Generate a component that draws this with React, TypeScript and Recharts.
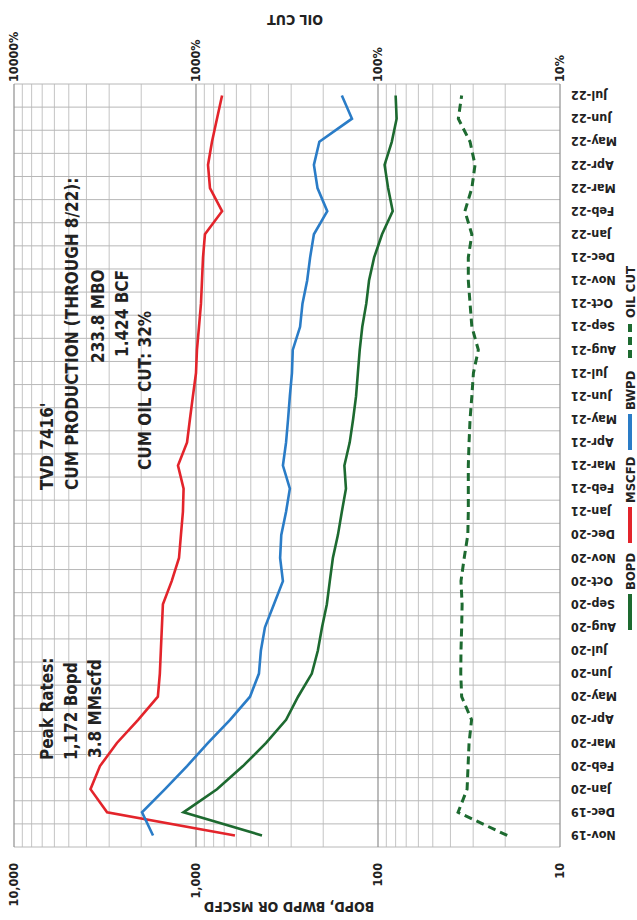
import { LineChart, Line, XAxis, YAxis, ReferenceLine } from 'recharts';

const FONT = '"Liberation Sans Narrow", "DejaVu Sans Condensed", "Liberation Sans", sans-serif';

const MONTHS = ['Nov-19', 'Dec-19', 'Jan-20', 'Feb-20', 'Mar-20', 'Apr-20', 'May-20', 'Jun-20', 'Jul-20', 'Aug-20', 'Sep-20',
  'Oct-20', 'Nov-20', 'Dec-20', 'Jan-21', 'Feb-21', 'Mar-21', 'Apr-21', 'May-21', 'Jun-21', 'Jul-21', 'Aug-21', 'Sep-21',
  'Oct-21', 'Nov-21', 'Dec-21', 'Jan-22', 'Feb-22', 'Mar-22', 'Apr-22', 'May-22', 'Jun-22', 'Jul-22'];

const BOPD = [434, 1172, 767, 552, 412, 320, 275, 231, 214, 203, 191, 184, 177, 166, 158, 150, 153, 143, 137, 132, 129,
  126, 122, 116, 112, 105, 95, 83, 88, 92, 84, 79, 80];
const MSCFD = [611, 3080, 3800, 3370, 2720, 2080, 1620, 1580, 1560, 1540, 1520, 1360, 1240, 1210, 1180, 1170, 1256, 1120,
  1080, 1040, 1000, 988, 963, 939, 927, 915, 893, 719, 838, 859, 817, 767, 719];
const BWPD = [1722, 1980, 1480, 1120, 859, 650, 505, 451, 440, 418, 373, 333, 345, 340, 320, 305, 333, 320, 312, 305, 297,
  294, 268, 260, 245, 236, 225, 190, 215, 225, 210, 139, 158];
const OIL_CUT = [19.5, 36.3, 32.4, 32.0, 31.6, 30.6, 34.7, 35.1, 35.0, 34.7, 34.5, 35.0, 33.6, 32.1, 31.9, 31.9, 31.9, 31.6,
  31.2, 30.5, 29.9, 28.1, 30.5, 31.2, 31.9, 31.9, 30.5, 33.3, 30.5, 29.3, 31.2, 36.2, 34.7];

const DECADES = [10, 100, 1000, 10000];
const DECADE_LABELS = ['10', '100', '1,000', '10,000'];
const CUT_LABELS = ['10%', '100%', '1000%', '10000%'];
const MINOR = [20, 30, 40, 50, 60, 70, 80, 90, 200, 300, 400, 500, 600, 700, 800, 900, 2000, 3000, 4000, 5000, 6000, 7000, 8000, 9000];

const data = MONTHS.map((m, i) => ({ idx: i, month: m, bopd: BOPD[i], mscfd: MSCFD[i], bwpd: BWPD[i], oilCut: OIL_CUT[i] }));
const bounds = [...MONTHS.map((_, i) => i - 0.5), MONTHS.length - 0.5];

const GREEN = '#1d6a30';
const RED = '#e3242b';
const BLUE = '#2a7cc7';

function DateTick(props: any) {
  const { x, y, payload } = props;
  return (
    <text x={x} y={y} transform={`rotate(-90, ${x}, ${y})`} textAnchor="end" dy="0.35em"
      fontSize={12.5} fontWeight={700} fill="#222" fontFamily={FONT}>
      {MONTHS[payload.value]}
    </text>
  );
}

const legend = [
  { name: 'BOPD', color: GREEN, x: 290, dash: false },
  { name: 'MSCFD', color: RED, x: 377, dash: false },
  { name: 'BWPD', color: BLUE, x: 470, dash: false },
  { name: 'OIL CUT', color: GREEN, x: 562, dash: true },
];

export default function App() {
  const txt = { fontFamily: FONT, fontWeight: 700, fill: '#222' };
  return (
    <div style={{ position: 'absolute', left: 0, top: 0, width: 637, height: 920, overflow: 'hidden', background: '#fff' }}>
      <div style={{ position: 'absolute', left: 0, top: 0, width: 920, height: 637, transformOrigin: '0 0',
        transform: 'translate(0px, 920px) rotate(-90deg)' }}>
        <LineChart width={920} height={637} data={data} margin={{ top: 14, right: 0, bottom: 17, left: 0 }}>
          <XAxis dataKey="idx" type="number" domain={[-0.5, 32.5]} ticks={MONTHS.map((_, i) => i)} interval={0}
            tick={<DateTick />} tickLine={false} axisLine={false} tickSize={6} tickMargin={5} height={60} />
          <YAxis yAxisId="v" scale="log" domain={[10, 10000]} ticks={DECADES} width={73} tickLine={false} axisLine={false}
            tickSize={6} tickMargin={10} tickFormatter={(v) => DECADE_LABELS[DECADES.indexOf(v)]}
            tick={{ fontSize: 12.5, fontWeight: 700, fill: '#222', fontFamily: FONT }} />
          <YAxis yAxisId="cut" orientation="right" scale="log" domain={[10, 10000]} ticks={DECADES} width={84} tickLine={false}
            axisLine={false} tickSize={0} tickMargin={2} tickFormatter={(v) => CUT_LABELS[DECADES.indexOf(v)]}
            tick={{ fontSize: 12.5, fontWeight: 700, fill: '#222', fontFamily: FONT, textAnchor: 'start' }} />
          {MINOR.map((v) => <ReferenceLine key={'m' + v} yAxisId="v" y={v} stroke="#c4c4c4" strokeWidth={1} />)}
          {bounds.map((b) => <ReferenceLine key={'b' + b} yAxisId="v" x={b} stroke="#b8b8b8" strokeWidth={1} />)}
          {DECADES.map((v) => <ReferenceLine key={'d' + v} yAxisId="v" y={v} stroke="#8f8f8f" strokeWidth={1.2} />)}
          <Line yAxisId="v" dataKey="mscfd" stroke={RED} strokeWidth={2.6} dot={false} isAnimationActive={false} />
          <Line yAxisId="v" dataKey="bwpd" stroke={BLUE} strokeWidth={2.6} dot={false} isAnimationActive={false} />
          <Line yAxisId="v" dataKey="bopd" stroke={GREEN} strokeWidth={2.6} dot={false} isAnimationActive={false} />
          <Line yAxisId="cut" dataKey="oilCut" stroke={GREEN} strokeWidth={3} strokeDasharray="8 5" dot={false}
            isAnimationActive={false} />
        </LineChart>
        <svg width={920} height={637} style={{ position: 'absolute', left: 0, top: 0, pointerEvents: 'none' }}>
          <text x={13} y={289} transform="rotate(-90, 13, 289)" textAnchor="middle" dy="0.35em" fontSize={14} {...txt}>
            BOPD, BWPD OR MSCFD
          </text>
          <text x={900} y={295} transform="rotate(-90, 900, 295)" textAnchor="middle" dy="0.35em" fontSize={14} {...txt}>
            OIL CUT
          </text>
          <g fontSize={17} {...txt} style={{ whiteSpace: 'pre' }}>
            <text x={160} y={53}>Peak Rates:</text>
            <text x={160} y={77}>1,172 Bopd</text>
            <text x={162} y={101}>3.8 MMscfd</text>
            <text x={430} y={53}>TVD 7416'</text>
            <text x={430} y={78}>CUM PRODUCTION (THROUGH 8/22):</text>
            <text x={557} y={104}>233.8 MBO</text>
            <text x={563} y={128}>1.424 BCF</text>
            <text x={450} y={151}>CUM OIL CUT:  32%</text>
          </g>
          {legend.map((l) => (
            <g key={l.name}>
              <line x1={l.x} x2={l.x + 36} y1={630} y2={630} stroke={l.color} strokeWidth={4}
                strokeDasharray={l.dash ? '8 5' : undefined} />
              <text x={l.x + 40} y={630} dy="0.35em" fontSize={13} {...txt}>{l.name}</text>
            </g>
          ))}
        </svg>
      </div>
    </div>
  );
}
